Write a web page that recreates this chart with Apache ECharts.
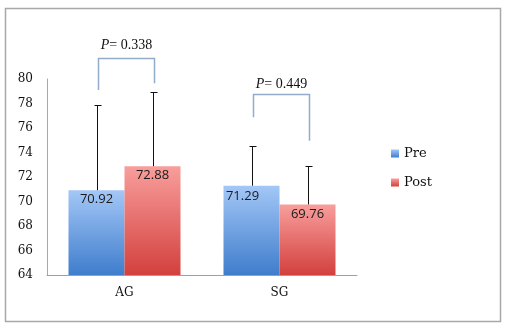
<!DOCTYPE html>
<html><head><meta charset="utf-8">
<script src="https://cdn.jsdelivr.net/npm/echarts@6/dist/echarts.min.js"></script>
<style>html,body{margin:0;padding:0;background:#fff}#c{width:509px;height:330px}</style>
</head><body><div id="c"></div>
<script>
var categories = ['AG', 'SG'];
var preMeans = [70.92, 71.29];
var postMeans = [72.88, 69.76];
var preSD = [6.93, 3.21];
var postSD = [6.09, 3.14];
var pValues = ['0.338', '0.449'];
var bracketTop = [81.69, 78.78];
var bracketLeftEnd = [79.1, 76.87];
var bracketRightEnd = [79.65, 74.96];
var pTextY = [82.75, 79.6];
var yTicks = {min: 64, max: 80, interval: 2};

var BAR_W = 56;
var chart = echarts.init(document.getElementById('c'));
var serifTick = 'DejaVu Serif';

function grad(top, bottom) {
  return new echarts.graphic.LinearGradient(0, 0, 0, 1, [{offset: 0, color: top}, {offset: 1, color: bottom}]);
}
var blue = grad('#a3c7f7', '#3f7dcc');
var red = grad('#f89e9c', '#d3403d');

function errRender(sign) {
  return function (params, api) {
    var i = api.value(0), m = api.value(1), s = api.value(2);
    var b = api.coord([i, m]), t = api.coord([i, m + s]);
    var x = Math.round(b[0] + sign * BAR_W / 2) + 0.5;
    var ty = Math.round(t[1]) + 0.5;
    return {type: 'group', children: [
      {type: 'line', shape: {x1: x, y1: b[1], x2: x, y2: ty}, style: {stroke: '#111', lineWidth: 1}},
      {type: 'line', shape: {x1: x - 3, y1: ty, x2: x + 4, y2: ty}, style: {stroke: '#111', lineWidth: 1}}
    ]};
  };
}

function bracketRender(params, api) {
  var i = api.value(0);
  var top = api.coord([i, api.value(1)]);
  var le = api.coord([i, api.value(2)]);
  var re = api.coord([i, api.value(3)]);
  var tp = api.coord([i, api.value(4)]);
  var xl = Math.round(top[0] - BAR_W / 2) + 1.5;
  var xr = Math.round(top[0] + BAR_W / 2) + 1.5;
  var yt = Math.round(top[1]) + 0.5;
  return {type: 'group', children: [
    {type: 'polyline', shape: {points: [[xl, le[1]], [xl, yt], [xr, yt], [xr, re[1]]]},
      style: {stroke: '#93acc9', lineWidth: 1.5, fill: null}},
    {type: 'text', x: tp[0] + 2, y: tp[1], style: {
      text: '{i|P}{n|= ' + pValues[params.dataIndex] + '}',
      align: 'center', verticalAlign: 'middle',
      rich: {
        i: {fontFamily: 'Liberation Serif', fontStyle: 'italic', fontSize: 14, fill: '#111'},
        n: {fontFamily: 'Liberation Serif', fontSize: 14, fill: '#111'}
      }
    }}
  ]};
}

var labelStyle = {show: true, position: 'insideTop', distance: 3, fontFamily: 'Open Sans', fontSize: 13, color: '#1a1a1a',
  formatter: function (p) { return p.value.toFixed(2); }};

var preData = preMeans.map(function (v, i) {
  var d = {value: v};
  if (i === 1) d.label = {offset: [-9, 1]};
  return d;
});

chart.setOption({
  animation: false,
  backgroundColor: '#fff',
  graphic: [{type: 'rect', shape: {x: 5.5, y: 8.5, width: 495, height: 313},
    style: {fill: null, stroke: '#a8a8a8', lineWidth: 1.5}, silent: true}],
  grid: {left: 47, top: 79, width: 310, height: 196, containLabel: false},
  legend: {
    orient: 'vertical', left: 386, top: 141, itemWidth: 8, itemHeight: 8, itemGap: 14, icon: 'rect',
    textStyle: {fontFamily: 'DejaVu Serif', fontSize: 13, color: '#111', lineHeight: 15},
    data: ['Pre', 'Post']
  },
  xAxis: {
    type: 'category', data: categories,
    axisLine: {lineStyle: {color: '#a0a0a0'}}, axisTick: {show: false},
    axisLabel: {fontFamily: serifTick, fontSize: 12, color: '#111', margin: 12}
  },
  yAxis: {
    type: 'value', min: yTicks.min, max: yTicks.max, interval: yTicks.interval,
    axisLine: {show: true, lineStyle: {color: '#a8a8a8'}}, axisTick: {show: false},
    splitLine: {show: false},
    axisLabel: {fontFamily: serifTick, fontSize: 12, color: '#111', margin: 14}
  },
  series: [
    {name: 'Pre', type: 'bar', data: preData, barWidth: BAR_W, barGap: '0%', itemStyle: {color: blue}, label: labelStyle},
    {name: 'Post', type: 'bar', data: postMeans, barWidth: BAR_W, barGap: '0%', itemStyle: {color: red}, label: labelStyle},
    {type: 'custom', renderItem: errRender(-1), z: 5, clip: false,
      data: preMeans.map(function (m, i) { return [i, m, preSD[i]]; })},
    {type: 'custom', renderItem: errRender(1), z: 5, clip: false,
      data: postMeans.map(function (m, i) { return [i, m, postSD[i]]; })},
    {type: 'custom', renderItem: bracketRender, z: 5, clip: false,
      data: categories.map(function (c, i) { return [i, bracketTop[i], bracketLeftEnd[i], bracketRightEnd[i], pTextY[i]]; })}
  ]
});
</script></body></html>
